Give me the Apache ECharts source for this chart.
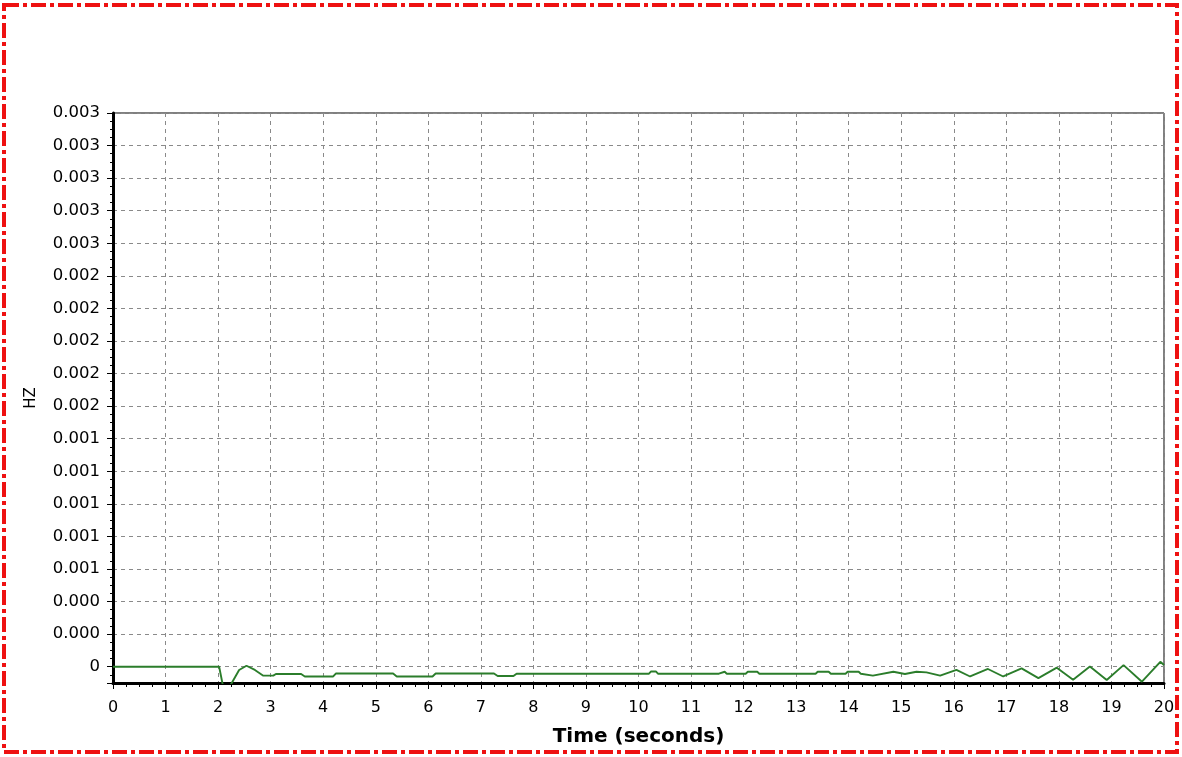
<!DOCTYPE html>
<html>
<head>
<meta charset="utf-8">
<script src="https://cdn.jsdelivr.net/npm/echarts@6/dist/echarts.min.js"></script>
<style>
html,body{margin:0;padding:0;background:#fff;}
#chart{width:1182px;height:757px;}
</style>
</head>
<body>
<div id="chart"></div>
<script>
// Time (seconds)
const times = [0, 2.02, 2.1, 2.2, 2.26, 2.4, 2.54, 2.7, 2.86, 3.05, 3.1, 3.58, 3.65, 4.19, 4.24, 5.33, 5.4, 6.08, 6.14, 7.25, 7.32, 7.62, 7.68, 10.2, 10.24, 10.33, 10.37, 11.53, 11.56, 11.64, 11.68, 12.04, 12.08, 12.26, 12.3, 13.37, 13.41, 13.62, 13.66, 13.94, 13.98, 14.19, 14.23, 14.46, 14.85, 15.07, 15.29, 15.48, 15.74, 16.05, 16.31, 16.65, 16.94, 17.29, 17.61, 17.96, 18.27, 18.59, 18.91, 19.23, 19.58, 19.93, 20];
// HZ
const hz = [0, 0, -0.00013, -0.00013, -0.0001, -0.00002, 0.000006, -0.00002, -0.000055, -0.000055, -0.000045, -0.000045, -0.00006, -0.00006, -0.000042, -0.000042, -0.00006, -0.00006, -0.000042, -0.000042, -0.000057, -0.000057, -0.000043, -0.000043, -0.000029, -0.000029, -0.000043, -0.000043, -0.000031, -0.000031, -0.000043, -0.000043, -0.000031, -0.000031, -0.000043, -0.000043, -0.000031, -0.000031, -0.000043, -0.000043, -0.000031, -0.000031, -0.000043, -0.000055, -0.000031, -0.000045, -0.000031, -0.000035, -0.000055, -0.00002, -0.00006, -0.000014, -0.00006, -0.00001, -0.00007, -0.000006, -0.00008, 0.000002, -0.000082, 0.00001, -0.000092, 0.00003, 0.00001];

const xMin = 0, xMax = 20, xStep = 1;
const yMin = -0.0001, yMax = 0.0034, yStep = 0.0002;
const xTitle = 'Time (seconds)';
const yTitle = 'HZ';

const chart = echarts.init(document.getElementById('chart'), null, {renderer: 'canvas'});
const font = 'DejaVu Sans';
const gridDash = {color: '#8a8a8a', width: 1, type: [4, 4]};

chart.setOption({
  animation: false,
  backgroundColor: '#ffffff',
  graphic: [{
    type: 'rect',
    shape: {x: 4, y: 5, width: 1173, height: 747},
    style: {fill: 'none', stroke: '#ee1111', lineWidth: 4, lineDash: [15, 4, 4, 4]},
    silent: true, z: 100
  }],
  grid: {left: 113, top: 113, right: 18, bottom: 74, show: true, borderColor: '#000', borderWidth: 1, backgroundColor: 'transparent'},
  xAxis: {
    type: 'value', min: xMin, max: xMax, interval: xStep,
    name: xTitle, nameLocation: 'middle', nameGap: 44,
    nameTextStyle: {fontFamily: font, fontSize: 20, fontWeight: 'bold', color: '#000'},
    axisLine: {show: true, onZero: false, lineStyle: {color: '#000', width: 3}},
    axisTick: {show: true, inside: false, length: 6, lineStyle: {color: '#000', width: 1}},
    minorTick: {show: true, splitNumber: 4, length: 4, lineStyle: {color: '#000', width: 1}},
    axisLabel: {fontFamily: font, fontSize: 16, color: '#000', margin: 17, formatter: v => String(Math.round(v))},
    splitLine: {show: true, lineStyle: gridDash}
  },
  yAxis: {
    type: 'value', min: yMin, max: yMax, splitNumber: 17, minInterval: yStep, maxInterval: yStep,
    name: yTitle, nameLocation: 'middle', nameGap: 74, nameRotate: 90,
    nameTextStyle: {fontFamily: font, fontSize: 15, color: '#000'},
    axisLine: {show: true, onZero: false, lineStyle: {color: '#000', width: 3}},
    axisTick: {show: true, inside: false, length: 6, lineStyle: {color: '#000', width: 1}},
    minorTick: {show: true, splitNumber: 4, length: 3, lineStyle: {color: '#000', width: 1}},
    axisLabel: {
      fontFamily: font, fontSize: 16.5, color: '#000', margin: 13, showMinLabel: true, showMaxLabel: true,
      formatter: v => (v < -1e-9 ? '' : (Math.abs(v) < 1e-12 ? '0' : v.toFixed(3)))
    },
    splitLine: {show: true, lineStyle: gridDash}
  },
  series: [{
    type: 'line',
    data: times.map((t, i) => [t, hz[i]]),
    showSymbol: false,
    clip: true,
    lineStyle: {color: '#2b7d2b', width: 1.9},
    z: 3
  }]
});
</script>
</body>
</html>
